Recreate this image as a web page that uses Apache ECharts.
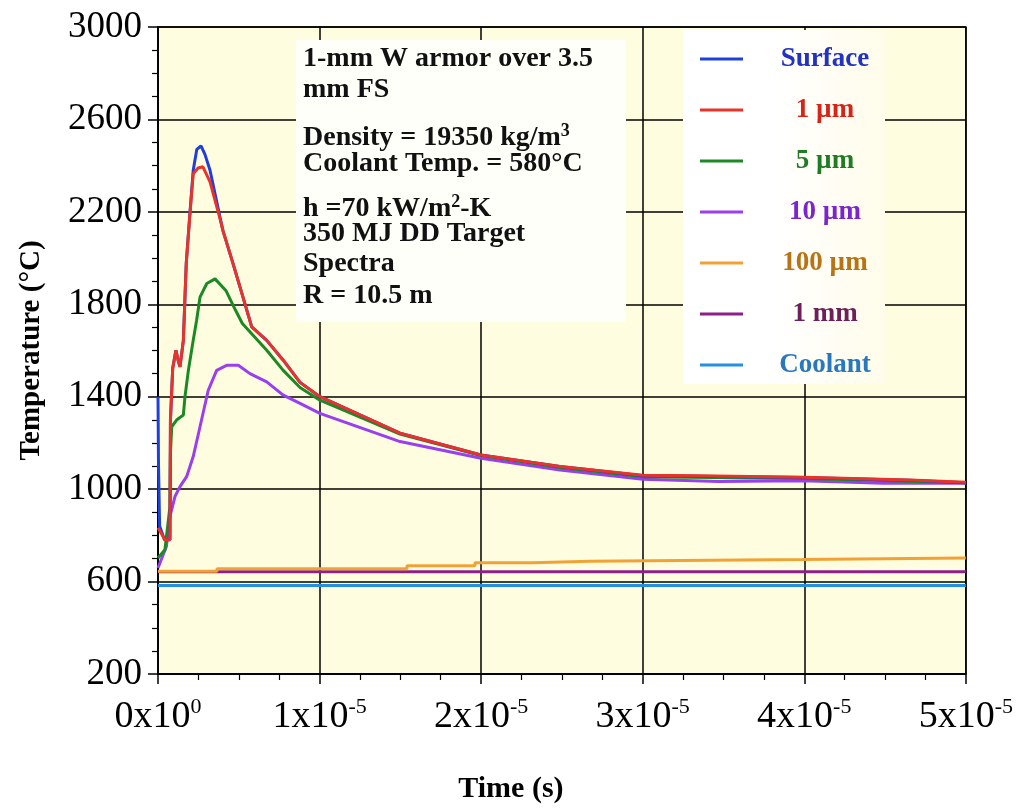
<!DOCTYPE html>
<html>
<head>
<meta charset="utf-8">
<script src="https://cdn.jsdelivr.net/npm/echarts@6/dist/echarts.min.js"></script>
<style>
  html, body { margin: 0; padding: 0; background: #fff; }
  #chart { width: 1016px; height: 809px; }
</style>
</head>
<body>
<div id="chart"></div>
<script>
// time in microseconds (10 us = 1x10^-5 s), temperature in deg C
const surfaceT = [0, 0.03, 0.08, 0.1, 0.4, 0.74, 0.77, 0.91, 1.11, 1.24, 1.36, 1.57, 1.68, 1.75, 1.98, 2.18, 2.4, 2.66, 2.9, 3.22, 3.84, 4.02, 4.64, 5.26, 5.8, 6.73, 7.75, 8.79, 10.02, 14.98, 19.99, 24.88, 30.01, 33.35, 39.91, 46.53, 50]
const surfaceV = [1400, 1112, 1112, 840, 781, 781, 1299, 1523, 1601, 1560, 1529, 1644, 1850, 1980, 2200, 2380, 2470, 2486, 2450, 2380, 2176, 2119, 1977, 1831, 1702, 1644, 1558, 1462, 1400, 1242, 1148, 1098, 1058, 1056, 1050, 1038, 1028]

const um1T = [0, 0.43, 0.74, 0.77, 0.91, 1.11, 1.24, 1.36, 1.57, 1.68, 1.75, 1.98, 2.18, 2.48, 2.78, 3.22, 3.84, 4.02, 4.64, 5.26, 5.8, 6.73, 7.75, 8.79, 10.02, 14.98, 19.99, 24.88, 30.01, 33.35, 39.91, 46.53, 50]
const um1V = [833, 781, 781, 1299, 1523, 1601, 1560, 1529, 1644, 1850, 1977, 2192, 2365, 2390, 2395, 2330, 2170, 2119, 1977, 1831, 1702, 1644, 1558, 1462, 1400, 1242, 1148, 1098, 1060, 1058, 1052, 1040, 1030]

const um5T = [0, 0.43, 0.74, 0.77, 0.85, 1.15, 1.57, 1.67, 1.88, 2.18, 2.39, 2.6, 3.02, 3.53, 4.2, 4.8, 5.22, 6.73, 7.75, 8.79, 10.02, 14.98, 19.99, 24.88, 30.01, 39.91, 50]
const um5V = [702, 738, 925, 1157, 1270, 1299, 1321, 1400, 1514, 1644, 1731, 1831, 1890, 1910, 1860, 1774, 1717, 1601, 1514, 1440, 1385, 1238, 1145, 1094, 1054, 1046, 1028]

const um10T = [0, 0.52, 0.74, 1.05, 1.36, 1.77, 2.18, 2.6, 3.11, 3.63, 4.25, 4.97, 5.69, 6.73, 7.75, 8.79, 10.02, 14.98, 19.99, 24.88, 30.01, 34.7, 39.91, 44.9, 50]
const um10V = [659, 752, 882, 968, 1011, 1054, 1141, 1270, 1428, 1514, 1536, 1536, 1500, 1464, 1407, 1371, 1328, 1206, 1134, 1083, 1043, 1033, 1036, 1026, 1026]

const um100T = [0, 3.65, 15.41, 19.62, 23.2, 26.73, 39.91, 50]
const um100V = [645, 656, 669, 681, 688, 695, 702, 702]

const mm1T = [0, 50]
const mm1V = [642, 642]

const coolantT = [0, 50]
const coolantV = [583, 583]

const names = ['Surface', '1 \u00b5m', '5 \u00b5m', '10 \u00b5m', '100 \u00b5m', '1 mm', 'Coolant']
const lineColors = ['#1f3fdc', '#e8332a', '#1c8a24', '#9a3ff0', '#f2a234', '#8c1f88', '#2490e0']
const textColors = ['#2232c4', '#d62418', '#1e7d22', '#7a26cc', '#b87414', '#6e1f5a', '#2878c0']

const yTicks = [200, 600, 1000, 1400, 1800, 2200, 2600, 3000]

const serif = '"Liberation Serif", "Times New Roman", serif'

const pairs = (t, v) => t.map((x, i) => [x, v[i]])
const allData = [
    pairs(surfaceT, surfaceV),
    pairs(um1T, um1V),
    pairs(um5T, um5V),
    pairs(um10T, um10V),
    pairs(um100T, um100V),
    pairs(mm1T, mm1V),
    pairs(coolantT, coolantV),
]

const chart = echarts.init(document.getElementById('chart'))

// draw order: flat lines first, then the hot curves; 1 um over surface after the peak
const order = [6, 5, 4, 3, 2, 0, 1]
const series = order.map(i => ({
    name: names[i],
    type: 'line',
    data: allData[i],
    showSymbol: false,
    symbol: 'none',
    step: i === 4 ? 'end' : false,
    lineStyle: { color: lineColors[i], width: 3 },
    itemStyle: { color: lineColors[i] },
    z: 3,
}))

const infoLines = [
    { y: 61, text: '{t|1-mm W armor over 3.5}' },
    { y: 92, text: '{t|mm FS}' },
    { y: 138, text: '{t|Density = 19350 kg/m}{s|3}' },
    { y: 166, text: '{t|Coolant Temp. = 580\u00b0C}' },
    { y: 209, text: '{t|h =70 kW/m}{s|2}{t|-K}' },
    { y: 236, text: '{t|350 MJ DD Target}' },
    { y: 266, text: '{t|Spectra}' },
    { y: 298, text: '{t|R = 10.5 m}' },
]

const infoRich = {
    t: { fontFamily: serif, fontSize: 28, fontWeight: 'bold', fill: '#111', lineHeight: 30, verticalAlign: 'bottom' },
    s: { fontFamily: serif, fontSize: 18, fontWeight: 'bold', fill: '#111', verticalAlign: 'top', lineHeight: 30 },
}

const option = {
    backgroundColor: '#ffffff',
    animation: false,
    grid: {
        left: 158, right: 50, top: 27, bottom: 133,
        show: true,
        backgroundColor: '#fffde0',
        borderColor: '#000',
        borderWidth: 1.5,
    },
    legend: {
        orient: 'vertical',
        left: 683, top: 45,
        padding: [0, 0, 0, 17],
        itemWidth: 43,
        itemHeight: 3,
        itemGap: 23,
        icon: 'rect',
        z: 20,
        data: names.map((n, i) => ({ name: n, textStyle: { color: textColors[i] } })),
        formatter: n => '{c|' + n + '}',
        textStyle: {
            fontFamily: serif,
            fontWeight: 'bold',
            fontSize: 27,
            rich: {
                c: { width: 154, align: 'center', fontFamily: serif, fontWeight: 'bold', fontSize: 27, height: 28, lineHeight: 28 },
            },
        },
    },
    xAxis: {
        type: 'value',
        min: 0, max: 50, interval: 10,
        name: 'Time (s)',
        nameLocation: 'middle',
        nameGap: 100,
        nameTextStyle: { fontFamily: serif, fontWeight: 'bold', fontSize: 30, color: '#000', padding: [0, 102, 0, 0] },
        axisLine: { show: true, lineStyle: { color: '#000', width: 1.5 } },
        axisTick: { show: true, length: 10, lineStyle: { color: '#000', width: 1.5 } },
        minorTick: { show: true, splitNumber: 4, length: 6, lineStyle: { color: '#000', width: 1.2 } },
        splitLine: { show: true, lineStyle: { color: '#000', width: 1.5 } },
        axisLabel: {
            margin: 22,
            formatter: v => v === 0 ? '{n|0x10}{s|0}' : '{n|' + (v / 10) + 'x10}{s|-5}',
            rich: {
                n: { fontFamily: serif, fontSize: 38, color: '#000', lineHeight: 40, verticalAlign: 'bottom' },
                s: { fontFamily: serif, fontSize: 22, color: '#000', lineHeight: 40, verticalAlign: 'top' },
            },
        },
    },
    yAxis: {
        type: 'value',
        min: 200, max: 3000, interval: 400,
        name: 'Temperature (\u00b0C)',
        nameLocation: 'middle',
        nameRotate: 90,
        nameGap: 112,
        nameTextStyle: { fontFamily: serif, fontWeight: 'bold', fontSize: 29, color: '#000' },
        axisLine: { show: true, lineStyle: { color: '#000', width: 1.5 } },
        axisTick: { show: true, length: 10, lineStyle: { color: '#000', width: 1.5 } },
        minorTick: { show: true, splitNumber: 4, length: 6, lineStyle: { color: '#000', width: 1.2 } },
        splitLine: { show: true, lineStyle: { color: '#000', width: 1.5 } },
        axisLabel: {
            margin: 16,
            fontFamily: serif,
            fontSize: 37,
            color: '#000',
            formatter: v => yTicks.includes(v) ? String(v) : '',
        },
    },
    graphic: {
        elements: [
            {
                type: 'rect',
                z: 10,
                shape: { x: 296, y: 40, width: 330, height: 282 },
                style: { fill: '#fffffa' },
            },
            {
                type: 'rect',
                z: 10,
                shape: { x: 683, y: 30, width: 202, height: 354 },
                style: {
                    fill: new echarts.graphic.LinearGradient(0, 0, 1, 0, [
                        { offset: 0, color: '#ffffff' },
                        { offset: 0.45, color: '#ffffff' },
                        { offset: 1, color: '#fffcea' },
                    ]),
                },
            },
        ].concat(infoLines.map(l => ({
            type: 'text',
            z: 11,
            left: 303,
            top: l.y - 16,
            style: { text: l.text, rich: infoRich, fill: '#111' },
        }))),
    },
    series: series,
}

chart.setOption(option)
</script>
</body>
</html>
